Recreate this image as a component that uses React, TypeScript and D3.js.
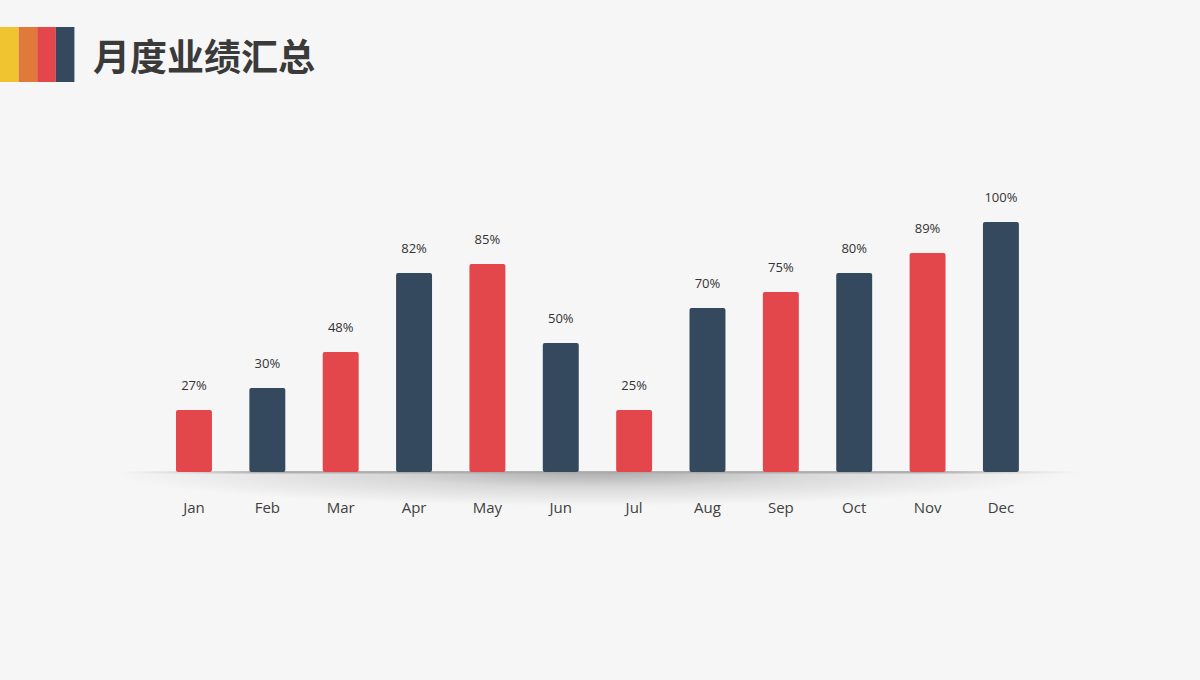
import React from "react";
import * as d3 from "d3";

const months = ["Jan", "Feb", "Mar", "Apr", "May", "Jun", "Jul", "Aug", "Sep", "Oct", "Nov", "Dec"];
// bar heights as drawn (relative, Dec = 100)
const barValues = [24.8, 33.6, 48, 79.6, 83.2, 51.6, 24.8, 65.6, 72, 79.6, 87.6, 100];
// printed labels
const valueLabels = ["27%", "30%", "48%", "82%", "85%", "50%", "25%", "70%", "75%", "80%", "89%", "100%"];
const barColors = ["#E3474C", "#34495E", "#E3474C", "#34495E", "#E3474C", "#34495E", "#E3474C", "#34495E", "#E3474C", "#34495E", "#E3474C", "#34495E"];
const stripeColors = ["#F0C330", "#E07A3A", "#E3474C", "#34495E"];
const title = "月度业绩汇总";

const W = 1200;
const H = 680;

export default function App() {
  const x = d3.scaleBand<string>().domain(months).range([157.3, 1037.6]).paddingInner(0.51).paddingOuter(0.255);
  const y = d3.scaleLinear().domain([0, 100]).range([472, 222]);
  const bw = x.bandwidth();
  return (
    <svg width={W} height={H} style={{ position: "absolute", left: 0, top: 0, background: "#F6F6F6" }}>
      <defs>
        <radialGradient id="shadow" cx="0.5" cy="0.5" r="0.5">
          <stop offset="0" stopColor="#000" stopOpacity="0.3" />
          <stop offset="0.45" stopColor="#000" stopOpacity="0.12" />
          <stop offset="1" stopColor="#000" stopOpacity="0" />
        </radialGradient>
        <linearGradient id="line" x1="0" x2="1" y1="0" y2="0">
          <stop offset="0" stopColor="#ccc" stopOpacity="0" />
          <stop offset="0.15" stopColor="#aaa" stopOpacity="0.9" />
          <stop offset="0.85" stopColor="#aaa" stopOpacity="0.9" />
          <stop offset="1" stopColor="#ccc" stopOpacity="0" />
        </linearGradient>
        <clipPath id="below">
          <rect x={0} y={472} width={W} height={60} />
        </clipPath>
      </defs>
      <rect x={0} y={0} width={W} height={H} fill="#F6F6F6" />
      {stripeColors.map((c, i) => (
        <rect key={c} x={i * 18.6} y={27} width={18.6} height={55} fill={c} />
      ))}
      <text x={93} y={71} fontFamily="'Noto Sans CJK SC', sans-serif" fontWeight={700} fontSize={37} fill="#3A3A3A">
        {title}
      </text>
      <g clipPath="url(#below)">
        <ellipse cx={590} cy={472} rx={480} ry={34} fill="url(#shadow)" />
      </g>
      <rect x={120} y={471} width={960} height={2.5} fill="url(#line)" />
      {months.map((m, i) => {
        const x0 = x(m)!;
        const top = y(barValues[i]);
        return (
          <g key={m}>
            <rect x={x0} y={top} width={bw} height={y(0) - top} rx={2} fill={barColors[i]} />
            <text x={x0 + bw / 2} y={top - 20} textAnchor="middle" fontFamily="'Open Sans', sans-serif" fontSize={13} fill="#333">
              {valueLabels[i]}
            </text>
            <text x={x0 + bw / 2} y={513} textAnchor="middle" fontFamily="'Open Sans', sans-serif" fontSize={15} fill="#404040">
              {m}
            </text>
          </g>
        );
      })}
    </svg>
  );
}
